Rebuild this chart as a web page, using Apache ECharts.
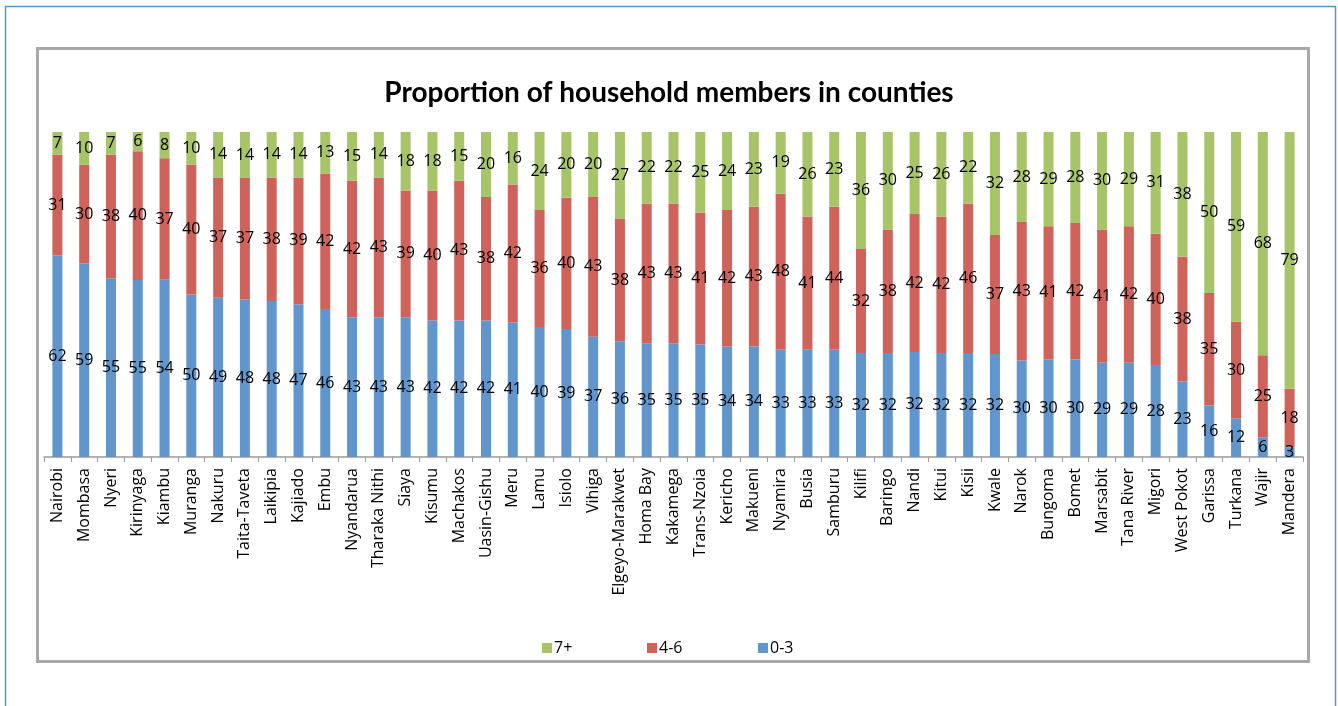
<!DOCTYPE html>
<html>
<head>
<meta charset="utf-8">
<script src="https://cdn.jsdelivr.net/npm/echarts@6/dist/echarts.min.js"></script>
<style>
html,body{margin:0;padding:0;background:#fff;}
#chart{width:1338px;height:706px;}
</style>
</head>
<body>
<div id="chart"></div>
<script>
const counties = ['Nairobi','Mombasa','Nyeri','Kirinyaga','Kiambu','Muranga','Nakuru','Taita-Taveta','Laikipia','Kajiado','Embu','Nyandarua','Tharaka Nithi','Siaya','Kisumu','Machakos','Uasin-Gishu','Meru','Lamu','Isiolo','Vihiga','Elgeyo-Marakwet','Homa Bay','Kakamega','Trans-Nzoia','Kericho','Makueni','Nyamira','Busia','Samburu','Kilifi','Baringo','Nandi','Kitui','Kisii','Kwale','Narok','Bungoma','Bomet','Marsabit','Tana River','Migori','West Pokot','Garissa','Turkana','Wajir','Mandera'];
const members0to3 = [62,59,55,55,54,50,49,48,48,47,46,43,43,43,42,42,42,41,40,39,37,36,35,35,35,34,34,33,33,33,32,32,32,32,32,32,30,30,30,29,29,28,23,16,12,6,3];
const members4to6 = [31,30,38,40,37,40,37,37,38,39,42,42,43,39,40,43,38,42,36,40,43,38,43,43,41,42,43,48,41,44,32,38,42,42,46,37,43,41,42,41,42,40,38,35,30,25,18];
const members7plus = [7,10,7,6,8,10,14,14,14,14,13,15,14,18,18,15,20,16,24,20,20,27,22,22,25,24,23,19,26,23,36,30,25,26,22,32,28,29,28,30,29,31,38,50,59,68,79];
const seriesNames = ['0-3','4-6','7+'];
const legendOrder = ['7+','4-6','0-3'];

const raw = [members0to3, members4to6, members7plus];
const totals = counties.map((c, i) => raw[0][i] + raw[1][i] + raw[2][i]);
const colors = ['#6096CB', '#CF635C', '#A7C468'];
const font = 'Open Sans';

const series = raw.map((arr, s) => ({
  name: seriesNames[s],
  type: 'bar',
  stack: 'total',
  barWidth: 10,
  itemStyle: { color: colors[s] },
  label: {
    show: true,
    position: 'inside',
    color: '#000',
    fontFamily: font,
    fontSize: 16,
    formatter: p => String(arr[p.dataIndex])
  },
  data: arr.map((v, i) => v * 100 / totals[i])
}));

const legendLefts = [542, 647, 758];
const legends = legendOrder.map((name, k) => ({
  data: [name],
  left: legendLefts[k],
  top: 640,
  padding: 0,
  itemWidth: 10,
  itemHeight: 10,
  icon: 'rect',
  textStyle: { fontFamily: font, fontSize: 16, color: '#000', padding: [0, 0, 0, -3] }
}));

const chart = echarts.init(document.getElementById('chart'), null, { renderer: 'canvas' });
chart.setOption({
  animation: false,
  backgroundColor: '#fff',
  title: {
    text: 'Proportion of household members in counties',
    left: 'center',
    top: 74,
    textStyle: { fontFamily: 'Lato', fontWeight: 'bold', fontSize: 28, color: '#000' }
  },
  legend: legends,
  grid: { left: 44, right: 35, top: 132, height: 325, containLabel: false },
  xAxis: {
    type: 'category',
    data: counties,
    boundaryGap: true,
    axisLine: { lineStyle: { color: '#9a9a9a', width: 1.5 } },
    axisTick: { show: true, alignWithLabel: false, length: 5, lineStyle: { color: '#9a9a9a' } },
    axisLabel: { rotate: 90, interval: 0, margin: 11, fontFamily: font, fontSize: 16, color: '#000' }
  },
  yAxis: {
    type: 'value', min: 0, max: 100,
    show: false
  },
  graphic: [
    { type: 'rect', shape: { x: 5.5, y: 6.5, width: 1330, height: 760 }, style: { fill: null, stroke: '#4C9BD6', lineWidth: 1.5 }, silent: true },
    { type: 'rect', shape: { x: 37.5, y: 48.5, width: 1271, height: 613 }, style: { fill: null, stroke: '#A8A8A8', lineWidth: 3 }, silent: true }
  ],
  series: series
});
</script>
</body>
</html>
